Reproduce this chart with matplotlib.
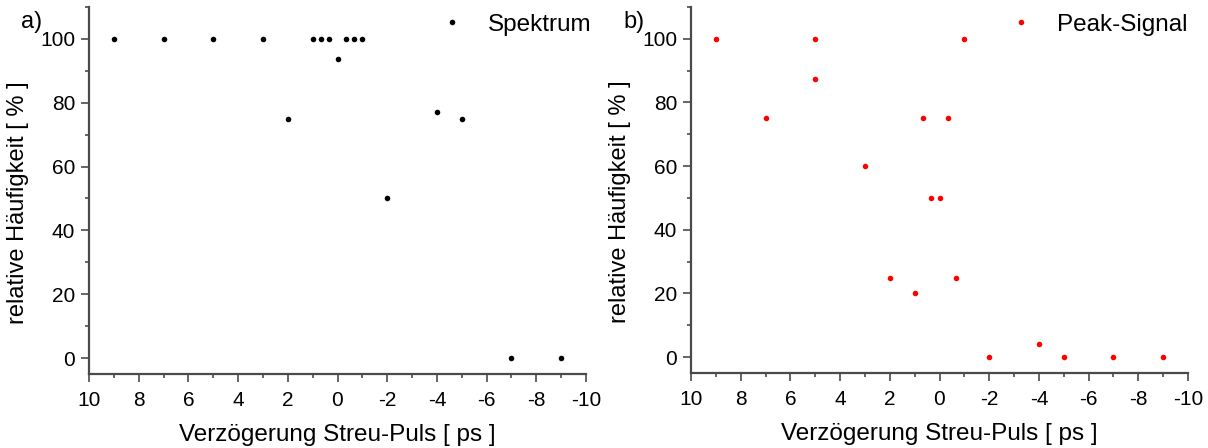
import matplotlib.pyplot as plt
from matplotlib.ticker import MultipleLocator

plt.rcParams['font.family'] = ['Liberation Sans', 'DejaVu Sans']
plt.rcParams['axes.unicode_minus'] = False

# a) Spektrum
spek_x = [9, 7, 5, 3, 2, 1, 0.67, 0.33, 0, -0.33, -0.67, -1, -2, -4, -5, -7, -9]
spek_y = [100, 100, 100, 100, 75, 100, 100, 100, 93.75, 100, 100, 100, 50, 77, 75, 0, 0]

# b) Peak-Signal
peak_x = [9, 7, 5, 5, 3, 2, 1, 0.67, 0.33, 0, -0.33, -0.67, -1, -2, -4, -5, -7, -9]
peak_y = [100, 75, 100, 87.5, 60, 25, 20, 75, 50, 50, 75, 25, 100, 0, 4, 0, 0, 0]

xticks = [10, 8, 6, 4, 2, 0, -2, -4, -6, -8, -10]
yticks = [0, 20, 40, 60, 80, 100]

fig = plt.figure(figsize=(12.08, 4.48), dpi=100)
ax1 = fig.add_axes([89 / 1208, 1 - 374 / 448, 497 / 1208, 367 / 448])
ax2 = fig.add_axes([691 / 1208, 1 - 373 / 448, 497 / 1208, 366 / 448])

spine_col = '#4a4a4a'
panels = [(ax1, spek_x, spek_y, 'black', 'Spektrum', 'a)', 1.03),
          (ax2, peak_x, peak_y, '#ff0000', 'Peak-Signal', 'b)', 1.018)]
for ax, x, y, col, lab, tag, lx in panels:
    ax.plot(x, y, 'o', color=col, markersize=4, markeredgewidth=0, label=lab)
    ax.set_xlim(10, -10)
    ax.set_ylim(-5, 110)
    ax.set_xticks(xticks)
    ax.set_yticks(yticks)
    ax.xaxis.set_minor_locator(MultipleLocator(1))
    ax.yaxis.set_minor_locator(MultipleLocator(10))
    ax.spines['top'].set_visible(False)
    ax.spines['right'].set_visible(False)
    for s in ['left', 'bottom']:
        ax.spines[s].set_color(spine_col)
        ax.spines[s].set_linewidth(1.6)
    ax.tick_params(which='major', direction='out', length=6, width=1.2,
                   color=spine_col, labelsize=15, pad=4)
    ax.tick_params(axis='x', which='major', pad=6)
    ax.tick_params(which='minor', direction='out', length=3, width=1.2, color=spine_col)
    ax.set_xlabel('Verzögerung Streu-Puls [ ps ]', fontsize=17.5, labelpad=10)
    ax.set_ylabel('relative Häufigkeit [ % ]', fontsize=17, labelpad=8)
    ax.yaxis.label.set_y(0.468)
    ax.legend(loc='upper right', frameon=False, fontsize=17.5, handletextpad=0.95,
              borderaxespad=0.0, bbox_to_anchor=(lx, 1.008), handlelength=1.0)
    pos = ax.get_position()
    fig.text(pos.x0 - 68 / 1208, 1 - 28 / 448, tag, fontsize=17, ha='left', va='baseline')

fig.savefig('out.png', dpi=100)
